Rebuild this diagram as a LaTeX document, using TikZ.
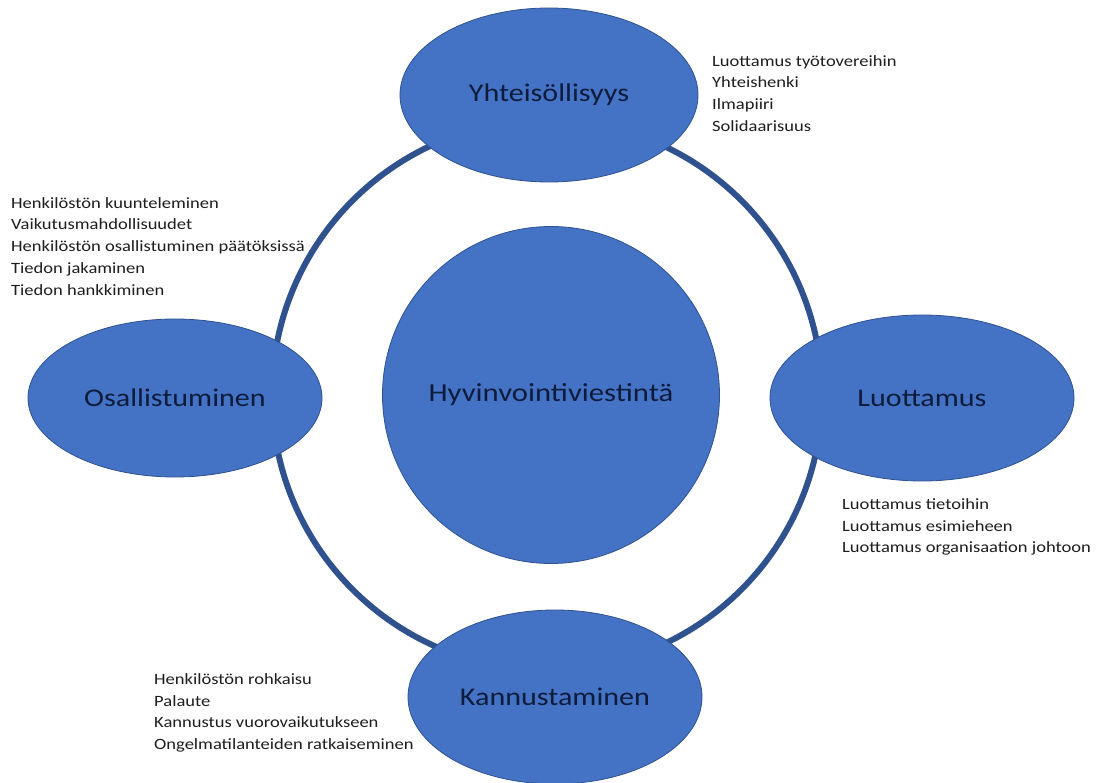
\documentclass[tikz,border=0pt]{standalone}
\usepackage{fontspec}
\setmainfont{Carlito}[FakeStretch=1.18]
\usetikzlibrary{shapes.geometric,positioning}

\definecolor{teema}{HTML}{4472C4}
\definecolor{reuna}{HTML}{2F528F}
\definecolor{tumma}{HTML}{0E1C3C}
\definecolor{teksti}{HTML}{1E1E1E}

\tikzset{
  teemapallo/.style={ellipse, fill=teema, draw=reuna, line width=0.8pt,
    text=tumma, inner sep=0pt, font=\fontsize{25.5}{30}\selectfont},
  lista/.style={align=left, anchor=north west, inner sep=0pt, text=teksti,
    font=\fontsize{15.7}{21.9}\selectfont}
}

\begin{document}
\begin{tikzpicture}[x=1pt, y=-1pt]
\useasboundingbox[fill=white] (0,0) rectangle (1101,783);

% =============================================
% Rengas keskuksen ympäri
% =============================================
\coordinate (keski) at (547,395);
\draw[reuna, line width=6pt] (keski) circle (275pt);

% =============================================
% Keskus
% =============================================
\node[teemapallo, circle, minimum size=337pt, font=\fontsize{26}{30}\selectfont]
  (hyvinvointi) at (551,395) {Hyvinvointiviestintä};

% =============================================
% Teemat
% =============================================
\node[teemapallo, minimum width=298pt, minimum height=174pt] (yhteisollisyys) at (549,95) {Yhteisöllisyys};
\node[teemapallo, minimum width=294pt, minimum height=158pt] (osallistuminen) at (175,398) {Osallistuminen};
\node[teemapallo, minimum width=304pt, minimum height=166pt] (luottamus) at (922,398) {Luottamus};
\node[teemapallo, minimum width=294pt, minimum height=174pt] (kannustaminen) at (555,697) {Kannustaminen};

% =============================================
% Listat
% =============================================
\node[lista] (lista-yht) at (712,55) {Luottamus työtovereihin\\Yhteishenki\\Ilmapiiri\\Solidaarisuus};
\node[lista] (lista-osa) at (11,197) {Henkilöstön kuunteleminen\\Vaikutusmahdollisuudet\\Henkilöstön osallistuminen päätöksissä\\Tiedon jakaminen\\Tiedon hankkiminen};
\node[lista] (lista-luo) at (842,498) {Luottamus tietoihin\\Luottamus esimieheen\\Luottamus organisaation johtoon};
\node[lista] (lista-kan) at (154,673) {Henkilöstön rohkaisu\\Palaute\\Kannustus vuorovaikutukseen\\Ongelmatilanteiden ratkaiseminen};

\end{tikzpicture}
\end{document}
